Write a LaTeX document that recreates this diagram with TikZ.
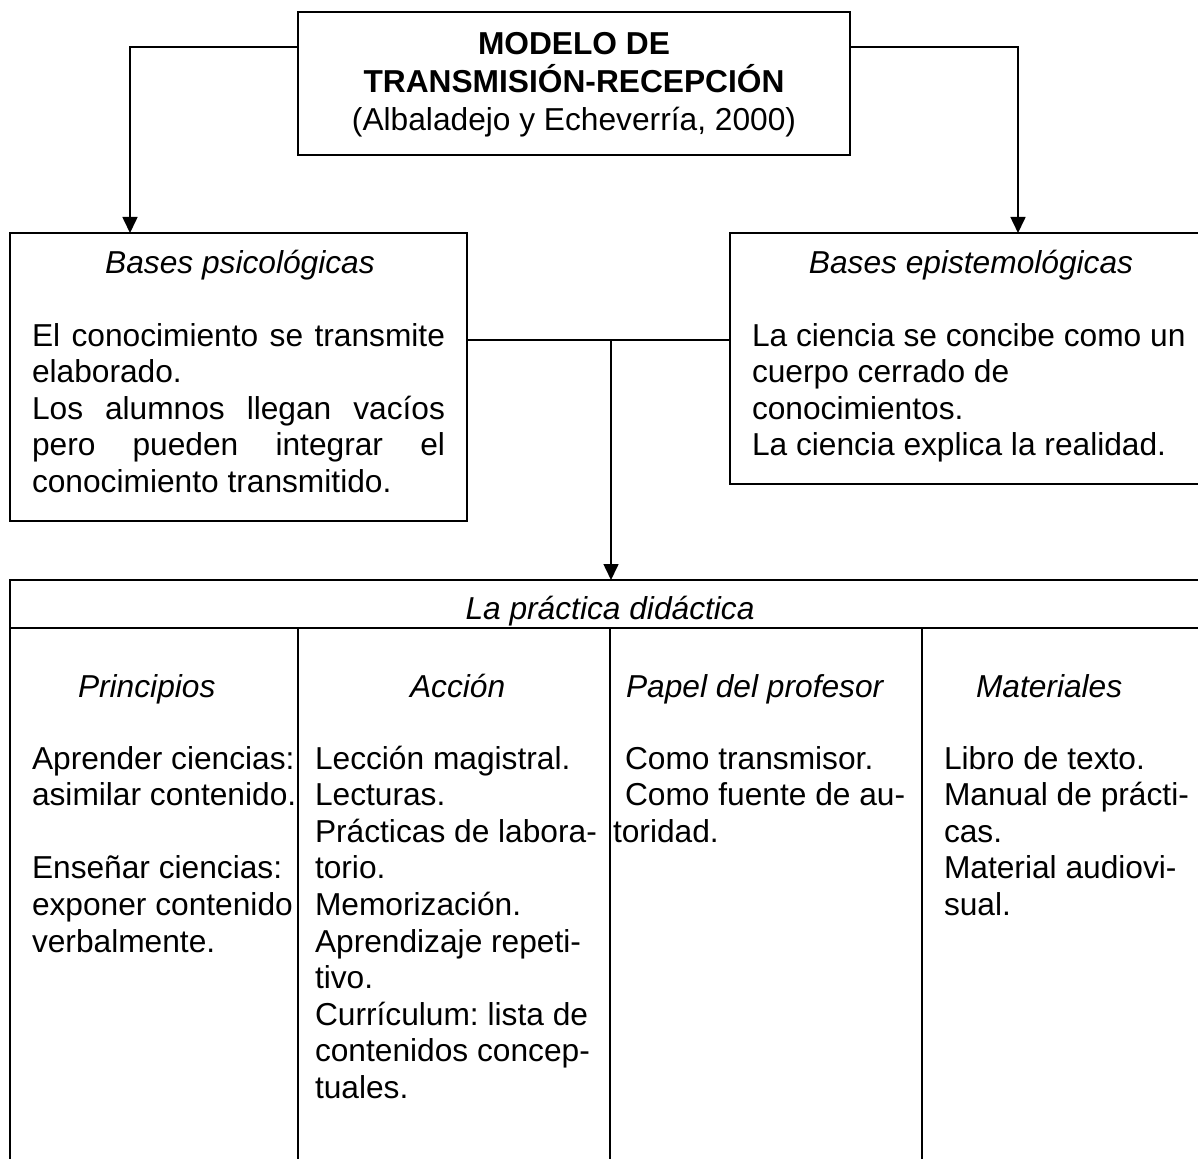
\documentclass[tikz,border=0pt]{standalone}
\usepackage{fontspec}
\setmainfont{Liberation Sans}
\usetikzlibrary{arrows.meta}
\frenchspacing
\newcommand{\fsz}{\fontsize{31.7}{36.6}\selectfont}
\tikzset{
  box/.style={draw, line width=1.6pt, inner sep=0pt, outer sep=0pt, anchor=north west},
  txt/.style={inner sep=0pt, outer sep=0pt, anchor=base west, font=\fsz},
  ctxt/.style={inner sep=0pt, outer sep=0pt, anchor=base, font=\fsz},
  ln/.style={line width=1.6pt},
  arr/.style={line width=1.6pt, -{Triangle[width=15pt,length=16pt]}}
}
\begin{document}
\begin{tikzpicture}[x=1pt,y=-1pt]
\path[use as bounding box] (0,0) rectangle (1198,1158);
\clip (0,0) rectangle (1198,1158);
% boxes
\node[box, minimum width=552pt, minimum height=143pt] (top) at (298,12) {};
\node[box, minimum width=457pt, minimum height=288pt] (lbox) at (10,233) {};
\node[box, minimum width=482pt, minimum height=251pt] (rbox) at (730,233) {};
\node[box, minimum width=1202pt, minimum height=620pt] (tab) at (10,580) {};
% top text
\node[ctxt, font=\fsz\bfseries] (t1) at (574,54.5) {MODELO DE};
\node[ctxt, font=\fsz\bfseries] (t2) at (574,93) {TRANSMISIÓN-RECEPCIÓN};
\node[ctxt] (t3) at (574,131) {(Albaladejo y Echeverría, 2000)};
% left box text
\node[ctxt, font=\fsz\itshape] (lt) at (240,273) {Bases psicológicas};
\node[txt] (l1) at (32,346) {\makebox[413pt][s]{El conocimiento se transmite}};
\node[txt] (l2) at (32,382.6) {elaborado.};
\node[txt] (l3) at (32,419.2) {\makebox[413pt][s]{Los alumnos llegan vacíos}};
\node[txt] (l4) at (32,455.8) {\makebox[413pt][s]{pero pueden integrar el}};
\node[txt] (l5) at (32,492.4) {conocimiento transmitido.};
% right box text
\node[ctxt, font=\fsz\itshape] (rt) at (971,273) {Bases epistemológicas};
\foreach \t [count=\i from 0] in {{La ciencia se concibe como un},{cuerpo cerrado de},{conocimientos.},{La ciencia explica la realidad.}}
  \node[txt] (r\i) at (752,{346+36.6*\i}) {\t};
% connectors
\draw[arr] ([yshift=-35pt]top.north west) -| ([xshift=120pt]lbox.north west);
\draw[arr] ([yshift=-35pt]top.north east) -| ([xshift=288pt]rbox.north west);
\coordinate (lc) at ([yshift=-107pt]lbox.north east);
\coordinate (rc) at ([yshift=-107pt]rbox.north west);
\draw[ln] (lc) -- (rc);
\coordinate (j) at (tab.north |- lc);
\draw[arr] (j) -- (tab.north);
% table grid
\draw[ln] ([yshift=-48pt]tab.north west) -- ([yshift=-48pt]tab.north east);
\draw[ln] ([xshift=288pt,yshift=-48pt]tab.north west) -- ([xshift=288pt]tab.south west);
\draw[ln] ([xshift=600pt,yshift=-48pt]tab.north west) -- ([xshift=600pt]tab.south west);
\draw[ln] ([xshift=912pt,yshift=-48pt]tab.north west) -- ([xshift=912pt]tab.south west);
% table header
\node[ctxt, font=\fsz\itshape] (th) at (610,619) {La práctica didáctica};
\node[txt, font=\fsz\itshape] (h1) at (78,697) {Principios};
\node[txt, font=\fsz\itshape] (h2) at (410,697) {Acción};
\node[txt, font=\fsz\itshape] (h3) at (626,697) {Papel del profesor};
\node[txt, font=\fsz\itshape] (h4) at (976,697) {Materiales};
% Principios
\node[txt] (p1) at (32,769) {Aprender ciencias:};
\node[txt] (p2) at (32,805.6) {asimilar contenido.};
\node[txt] (p3) at (32,878.8) {Enseñar ciencias:};
\node[txt] (p4) at (32,915.4) {exponer contenido};
\node[txt] (p5) at (32,952) {verbalmente.};
% Accion
\foreach \t [count=\i from 0] in {{Lección magistral.},{Lecturas.},{Prácticas de labora-},{torio.},{Memorización.},{Aprendizaje repeti-},{tivo.},{Currículum: lista de},{contenidos concep-},{tuales.}}
  \node[txt] (a\i) at (315,{769+36.6*\i}) {\t};
% Papel
\node[txt] (q1) at (625,769) {Como transmisor.};
\node[txt] (q2) at (625,805.6) {Como fuente de au-};
\node[txt] (q3) at (613,842.2) {toridad.};
% Materiales
\foreach \t [count=\i from 0] in {{Libro de texto.},{Manual de prácti-},{cas.},{Material audiovi-},{sual.}}
  \node[txt] (m\i) at (944,{769+36.6*\i}) {\t};
\end{tikzpicture}
\end{document}
